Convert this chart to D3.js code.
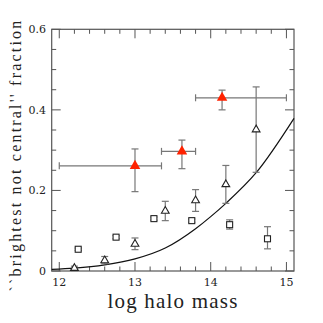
<!DOCTYPE html>
<html><head><meta charset="utf-8">
<script src="https://cdn.jsdelivr.net/npm/d3@7"></script>
<style>html,body{margin:0;padding:0;background:#fff;}svg{display:block;}</style>
</head><body>
<script>
// Red filled triangles (with x and y error bars)
const redX = [13.0, 13.62, 14.15];
const redY = [0.261, 0.297, 0.430];
const redYlo = [0.197, 0.254, 0.400];
const redYhi = [0.303, 0.325, 0.449];
const redXlo = [12.0, 13.35, 13.8];
const redXhi = [13.35, 13.8, 15.0];
// Open triangles
const triX = [12.2, 12.6, 13.0, 13.4, 13.8, 14.2, 14.6];
const triY = [0.007, 0.026, 0.067, 0.149, 0.175, 0.215, 0.351];
const triLo = [0.001, 0.018, 0.053, 0.125, 0.148, 0.168, 0.245];
const triHi = [0.012, 0.036, 0.082, 0.173, 0.202, 0.262, 0.457];
// Open squares
const sqX = [12.25, 12.75, 13.25, 13.75, 14.25, 14.75];
const sqY = [0.054, 0.084, 0.130, 0.125, 0.115, 0.080];
const sqLo = [0.051, 0.080, 0.126, 0.121, 0.104, 0.055];
const sqHi = [0.057, 0.088, 0.134, 0.129, 0.127, 0.110];
// Model curve
const curveX = [11.9, 12.2, 12.6, 13.0, 13.4, 13.8, 14.0, 14.2, 14.6, 15.1];
const curveY = [0.004, 0.007, 0.015, 0.030, 0.057, 0.105, 0.135, 0.168, 0.244, 0.379];
// Ticks
const xTicks = [12, 13, 14, 15];
const yTicks = [0, 0.2, 0.4, 0.6];
const yTickLabels = ["0", "0.2", "0.4", "0.6"];

const W = 323, H = 323;
const L = 51.7, R = 294, T = 29.3, B = 271;
const svg = d3.select("body").append("svg").attr("width", W).attr("height", H);
const x = d3.scaleLinear().domain([11.9, 15.1]).range([L, R]);
const y = d3.scaleLinear().domain([0, 0.6]).range([B, T]);
const frameCol = "#555";

// Frame
svg.append("rect").attr("x", L).attr("y", T).attr("width", R - L).attr("height", B - T)
  .attr("fill", "none").attr("stroke", frameCol).attr("stroke-width", 1.2);

// Ticks (inward, all four sides)
const xMinor = d3.range(12, 15.01, 0.2).map(v => +v.toFixed(2));
const yMinor = d3.range(0, 0.601, 0.05).map(v => +v.toFixed(3));
const tk = svg.append("g").attr("stroke", frameCol).attr("stroke-width", 1);
xMinor.forEach(v => {
  const major = xTicks.some(t => Math.abs(t - v) < 1e-6);
  const len = major ? 9 : 4.5;
  tk.append("line").attr("x1", x(v)).attr("x2", x(v)).attr("y1", B).attr("y2", B - len);
  tk.append("line").attr("x1", x(v)).attr("x2", x(v)).attr("y1", T).attr("y2", T + len);
});
yMinor.forEach(v => {
  const major = yTicks.some(t => Math.abs(t - v) < 1e-6);
  const len = major ? 9 : 4.5;
  tk.append("line").attr("y1", y(v)).attr("y2", y(v)).attr("x1", L).attr("x2", L + len);
  tk.append("line").attr("y1", y(v)).attr("y2", y(v)).attr("x1", R).attr("x2", R - len);
});

// Tick labels
const lblFont = "DejaVu Serif";
svg.append("g").selectAll("text").data(xTicks).join("text")
  .attr("x", d => x(d)).attr("y", 286).attr("text-anchor", "middle")
  .attr("font-family", lblFont).attr("font-size", 11).attr("fill", "#222")
  .text(d => d);
svg.append("g").selectAll("text").data(yTicks).join("text")
  .attr("x", 46).attr("y", d => y(d) + 4).attr("text-anchor", "end")
  .attr("font-family", lblFont).attr("font-size", 11).attr("fill", "#222")
  .text((d, i) => yTickLabels[i]);

// Axis titles
svg.append("text").attr("x", 173).attr("y", 308).attr("text-anchor", "middle")
  .attr("font-family", "Liberation Serif").attr("font-size", 21).attr("letter-spacing", 1.2)
  .attr("fill", "#222").text("log halo mass");
svg.append("text").attr("transform", "translate(21,155) rotate(-90)").attr("text-anchor", "middle")
  .attr("font-family", "Liberation Serif").attr("font-size", 16).attr("letter-spacing", 2.2)
  .attr("fill", "#222").text("``brightest not central'' fraction");

// Curve
const line = d3.line().x(d => x(d[0])).y(d => y(d[1])).curve(d3.curveMonotoneX);
svg.append("path").datum(curveX.map((v, i) => [v, curveY[i]]))
  .attr("d", line).attr("fill", "none").attr("stroke", "#111").attr("stroke-width", 1.2);

const eb = svg.append("g").attr("stroke", "#777").attr("stroke-width", 1.2).attr("fill", "none");
function vbar(xv, lo, hi, cap) {
  eb.append("line").attr("x1", x(xv)).attr("x2", x(xv)).attr("y1", y(lo)).attr("y2", y(hi));
  [lo, hi].forEach(v => eb.append("line").attr("x1", x(xv) - cap).attr("x2", x(xv) + cap).attr("y1", y(v)).attr("y2", y(v)));
}
function hbar(yv, lo, hi, cap) {
  eb.append("line").attr("y1", y(yv)).attr("y2", y(yv)).attr("x1", x(lo)).attr("x2", x(hi));
  [lo, hi].forEach(v => eb.append("line").attr("y1", y(yv) - cap).attr("y2", y(yv) + cap).attr("x1", x(v)).attr("x2", x(v)));
}
triX.forEach((v, i) => vbar(v, triLo[i], triHi[i], 3.5));
sqX.forEach((v, i) => vbar(v, sqLo[i], sqHi[i], 3.5));
redX.forEach((v, i) => { vbar(v, redYlo[i], redYhi[i], 3.5); hbar(redY[i], redXlo[i], redXhi[i], 3.5); });

// Markers
const triPath = d3.symbol().type(d3.symbolTriangle).size(26);
svg.append("g").selectAll("path").data(triX).join("path")
  .attr("transform", (d, i) => `translate(${x(d)},${y(triY[i])})`)
  .attr("d", triPath).attr("fill", "#fff").attr("stroke", "#222").attr("stroke-width", 1.1);
svg.append("g").selectAll("rect").data(sqX).join("rect")
  .attr("x", d => x(d) - 3).attr("y", (d, i) => y(sqY[i]) - 3).attr("width", 6).attr("height", 6)
  .attr("fill", "#fff").attr("stroke", "#222").attr("stroke-width", 1.1);
const redPath = d3.symbol().type(d3.symbolTriangle).size(48);
svg.append("g").selectAll("path").data(redX).join("path")
  .attr("transform", (d, i) => `translate(${x(d)},${y(redY[i])})`)
  .attr("d", redPath).attr("fill", "#ff2200").attr("stroke", "none");
</script>
</body></html>
